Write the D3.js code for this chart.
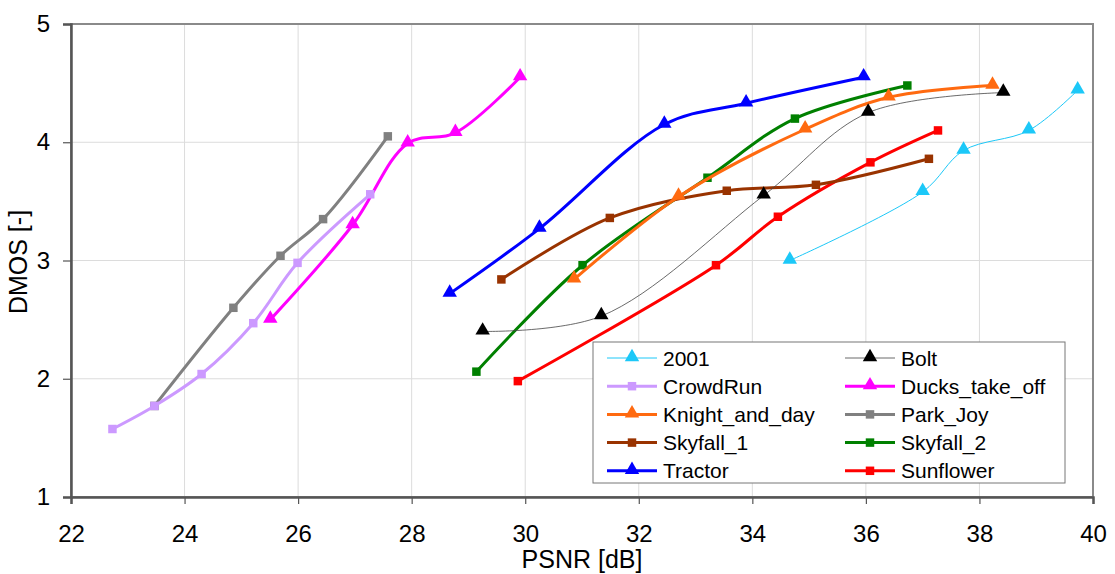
<!DOCTYPE html>
<html>
<head>
<meta charset="utf-8">
<script src="https://cdn.jsdelivr.net/npm/d3@7"></script>
<style>
  body { margin: 0; background: #fff; }
  text { font-family: "Liberation Sans", Arial, sans-serif; fill: #000; }
</style>
</head>
<body>
<div class="chart"></div>
<script>
var svgWidth = 1115;
var svgHeight = 574;

var margin = { top: 24, right: 22, bottom: 77, left: 71 };
var width = svgWidth - margin.left - margin.right;
var height = svgHeight - margin.top - margin.bottom;

// Data: PSNR [dB] / DMOS pairs per sequence
var seriesNames = ["2001", "Bolt", "CrowdRun", "Ducks_take_off", "Knight_and_day",
                   "Park_Joy", "Skyfall_1", "Skyfall_2", "Tractor", "Sunflower"];

var psnr2001 = [34.66, 37.0, 37.72, 38.87, 39.73];
var dmos2001 = [3.00, 3.58, 3.93, 4.10, 4.44];

var psnrBolt = [29.25, 31.34, 34.20, 36.04, 38.42];
var dmosBolt = [2.40, 2.53, 3.55, 4.25, 4.42];

var psnrCrowdRun = [22.73, 23.47, 24.30, 25.21, 25.99, 27.27];
var dmosCrowdRun = [1.575, 1.77, 2.04, 2.47, 2.98, 3.56];

var psnrDucks = [25.51, 26.96, 27.93, 28.77, 29.91];
var dmosDucks = [2.50, 3.30, 3.99, 4.08, 4.55];

var psnrKnight = [30.86, 32.70, 34.93, 36.40, 38.23];
var dmosKnight = [2.84, 3.54, 4.11, 4.38, 4.48];

var psnrParkJoy = [23.47, 24.86, 25.69, 26.44, 27.58];
var dmosParkJoy = [1.77, 2.60, 3.04, 3.35, 4.05];

var psnrSkyfall1 = [29.58, 31.49, 33.55, 35.12, 37.11];
var dmosSkyfall1 = [2.84, 3.36, 3.59, 3.64, 3.86];

var psnrSkyfall2 = [29.14, 31.01, 33.21, 34.75, 36.73];
var dmosSkyfall2 = [2.06, 2.96, 3.70, 4.20, 4.48];

var psnrTractor = [28.67, 30.25, 32.45, 33.89, 35.96];
var dmosTractor = [2.72, 3.27, 4.15, 4.33, 4.55];

var psnrSunflower = [29.87, 33.36, 34.45, 36.08, 37.27];
var dmosSunflower = [1.98, 2.96, 3.37, 3.83, 4.10];

var xTicks = [22, 24, 26, 28, 30, 32, 34, 36, 38, 40];
var yTicks = [1, 2, 3, 4, 5];

// Build series table from the arrays above
var allPsnr = [psnr2001, psnrBolt, psnrCrowdRun, psnrDucks, psnrKnight,
               psnrParkJoy, psnrSkyfall1, psnrSkyfall2, psnrTractor, psnrSunflower];
var allDmos = [dmos2001, dmosBolt, dmosCrowdRun, dmosDucks, dmosKnight,
               dmosParkJoy, dmosSkyfall1, dmosSkyfall2, dmosTractor, dmosSunflower];
var colors = ["#1cc8f8", "#000000", "#cc99ff", "#ff00ff", "#ff6a10",
              "#808080", "#993300", "#008000", "#0000ff", "#ff0000"];
var markers = ["tri", "tri", "sq", "tri", "tri", "sq", "sq", "sq", "tri", "sq"];
var lineWidths = [1, 0.8, 3, 3, 3, 3, 3, 3, 3, 3];

var series = seriesNames.map(function(name, i) {
  return {
    name: name,
    color: colors[i],
    marker: markers[i],
    lw: lineWidths[i],
    points: allPsnr[i].map(function(p, j) { return { x: p, y: allDmos[i][j] }; })
  };
});

var svg = d3.select(".chart")
  .append("svg")
  .attr("width", svgWidth)
  .attr("height", svgHeight);

var chart = svg.append("g")
  .attr("transform", "translate(" + margin.left + "," + margin.top + ")");

var xScale = d3.scaleLinear().domain([22, 40]).range([0, width]);
var yScale = d3.scaleLinear().domain([1, 5]).range([height, 0]);

// Gridlines
chart.append("g")
  .selectAll("line")
  .data(xTicks)
  .enter()
  .append("line")
  .attr("x1", function(d) { return xScale(d); })
  .attr("x2", function(d) { return xScale(d); })
  .attr("y1", 0)
  .attr("y2", height)
  .attr("stroke", "#dcdcdc")
  .attr("stroke-width", 1);

chart.append("g")
  .selectAll("line")
  .data(yTicks)
  .enter()
  .append("line")
  .attr("x1", 0)
  .attr("x2", width)
  .attr("y1", function(d) { return yScale(d); })
  .attr("y2", function(d) { return yScale(d); })
  .attr("stroke", "#dcdcdc")
  .attr("stroke-width", 1);

// Plot frame
chart.append("rect")
  .attr("x", 0)
  .attr("y", 0)
  .attr("width", width)
  .attr("height", height)
  .attr("fill", "none")
  .attr("stroke", "#8a8a8a")
  .attr("stroke-width", 2);

// Axes
var bottomAxis = d3.axisBottom(xScale).tickValues(xTicks).tickSize(7).tickPadding(21);
var leftAxis = d3.axisLeft(yScale).tickValues(yTicks).tickSize(8).tickPadding(13)
  .tickFormat(d3.format("d"));

var xAxisG = chart.append("g")
  .attr("transform", "translate(0," + height + ")")
  .call(bottomAxis);
var yAxisG = chart.append("g").call(leftAxis);

[xAxisG, yAxisG].forEach(function(g) {
  g.attr("font-size", null).attr("font-family", null);
  g.select(".domain").attr("stroke", "#555").attr("stroke-width", 2.5);
  g.selectAll(".tick line").attr("stroke", "#555").attr("stroke-width", 1.2);
  g.selectAll(".tick text")
    .style("font-family", "'Liberation Sans', Arial, sans-serif")
    .style("font-size", "24px")
    .attr("fill", "#000");
});

// Axis titles
chart.append("text")
  .attr("x", width / 2)
  .attr("y", height + 71)
  .attr("text-anchor", "middle")
  .style("font-size", "25px")
  .text("PSNR [dB]");

chart.append("text")
  .attr("transform", "rotate(-90)")
  .attr("x", -238)
  .attr("y", -44)
  .attr("text-anchor", "middle")
  .style("font-size", "25px")
  .text("DMOS [-]");

var line = d3.line()
  .x(function(d) { return xScale(d.x); })
  .y(function(d) { return yScale(d.y); })
  .curve(d3.curveCatmullRom.alpha(0.5));

var triSym = d3.symbol().type(d3.symbolTriangle).size(90);
var sqSym = d3.symbol().type(d3.symbolSquare).size(72);

function drawMarker(g, type, color) {
  g.append("path")
    .attr("d", type === "tri" ? triSym() : sqSym())
    .attr("transform", type === "tri" ? "translate(0,-1)" : null)
    .attr("fill", color);
}

// Series lines and markers (drawn in reverse so the legend order ends on top)
var seriesG = chart.selectAll(".series")
  .data(series.slice().reverse())
  .enter()
  .append("g")
  .attr("class", "series");

seriesG.append("path")
  .attr("d", function(d) { return line(d.points); })
  .attr("fill", "none")
  .attr("stroke", function(d) { return d.name === "Bolt" ? "#444" : d.color; })
  .attr("stroke-width", function(d) { return d.lw; })
  .attr("stroke-linejoin", "round");

seriesG.each(function(s) {
  d3.select(this).selectAll(".pt")
    .data(s.points)
    .enter()
    .append("g")
    .attr("class", "pt")
    .attr("transform", function(d) {
      return "translate(" + xScale(d.x) + "," + yScale(d.y) + ")";
    })
    .each(function() { drawMarker(d3.select(this), s.marker, s.color); });
});

// Legend
var legX = 593 - margin.left;
var legY = 342 - margin.top;
var legend = chart.append("g").attr("transform", "translate(" + legX + "," + legY + ")");

legend.append("rect")
  .attr("x", 0)
  .attr("y", 0)
  .attr("width", 472)
  .attr("height", 141)
  .attr("fill", "#fff")
  .attr("stroke", "#777")
  .attr("stroke-width", 1);

var items = legend.selectAll(".item")
  .data(series)
  .enter()
  .append("g")
  .attr("class", "item")
  .attr("transform", function(d, i) {
    var col = i % 2;
    var row = Math.floor(i / 2);
    return "translate(" + (col === 0 ? 14 : 252) + "," + (16 + row * 28.2) + ")";
  });

items.append("line")
  .attr("x1", 0)
  .attr("x2", 50)
  .attr("stroke", function(d) { return d.name === "Bolt" ? "#444" : d.color; })
  .attr("stroke-width", function(d) { return d.lw; });

items.each(function(d) {
  var m = d3.select(this).append("g").attr("transform", "translate(25,0)");
  drawMarker(m, d.marker, d.color);
});

items.append("text")
  .attr("x", 56)
  .attr("y", 0)
  .attr("dy", "0.36em")
  .style("font-size", "21px")
  .text(function(d) { return d.name; });
</script>
</body>
</html>
